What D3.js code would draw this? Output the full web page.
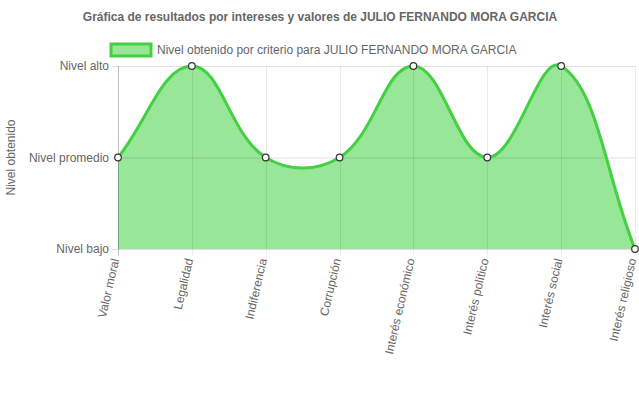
<!DOCTYPE html>
<html>
<head>
<meta charset="utf-8">
<script src="https://cdn.jsdelivr.net/npm/d3@7"></script>
<style>
  body { margin: 0; background: #fff; }
  text { font-family: "Liberation Sans", Arial, sans-serif; fill: #666; }
</style>
</head>
<body>
<div id="chart"></div>
<script>
// data
let categories = ["Valor moral", "Legalidad", "Indiferencia", "Corrupción",
  "Interés económico", "Interés político", "Interés social", "Interés religioso"];
let levels = ["Nivel bajo", "Nivel promedio", "Nivel alto"];
let values = [1, 2, 1, 1, 2, 1, 2, 0];
let seriesName = "Nivel obtenido por criterio para JULIO FERNANDO MORA GARCIA";
let title = "Gráfica de resultados por intereses y valores de JULIO FERNANDO MORA GARCIA";

let W = 639, H = 396;
let margin = {top: 66, right: 4, bottom: 147, left: 118};

let svg = d3.select("#chart").append("svg")
  .attr("width", W).attr("height", H);

let x = d3.scalePoint().domain(categories).range([margin.left, W - margin.right]);
let y = d3.scaleLinear().domain([0, 2]).range([H - margin.bottom, margin.top]);

// title
svg.append("text")
  .attr("x", 320).attr("y", 21)
  .attr("text-anchor", "middle")
  .style("font-size", "12px").style("font-weight", "bold")
  .text(title);

// legend
svg.append("rect")
  .attr("x", 111).attr("y", 44).attr("width", 40).attr("height", 12)
  .attr("fill", "rgba(50,205,50,0.5)")
  .attr("stroke", "#43d043").attr("stroke-width", 3);
svg.append("text")
  .attr("x", 157).attr("y", 54)
  .style("font-size", "12px")
  .text(seriesName);

// y labels
svg.selectAll(".yl").data([0, 1, 2]).enter().append("text")
  .attr("x", margin.left - 9).attr("y", d => y(d))
  .attr("dy", "0.35em").attr("text-anchor", "end")
  .style("font-size", "12px")
  .text(d => levels[d]);

svg.append("text")
  .attr("transform", "translate(15," + y(1) + ") rotate(-90)")
  .attr("text-anchor", "middle")
  .style("font-size", "12px")
  .text("Nivel obtenido");

// x labels
svg.selectAll(".xl").data(categories).enter().append("text")
  .attr("transform", d => "translate(" + (x(d) - 1) + "," + (y(0) + 10) + ") rotate(-77)")
  .attr("text-anchor", "end").attr("dy", "0.2em")
  .style("font-size", "12px")
  .text(d => d);

// spline like Chart.js (tension 0.4)
let pts = values.map((v, i) => [x(categories[i]), y(v)]);
let tension = 0.4;
let cps = pts.map((p, i) => {
  let p0 = pts[i - 1] || p, p2 = pts[i + 1] || p;
  let d01 = Math.hypot(p[0] - p0[0], p[1] - p0[1]);
  let d12 = Math.hypot(p2[0] - p[0], p2[1] - p[1]);
  let s01 = d01 / (d01 + d12), s12 = d12 / (d01 + d12);
  s01 = isNaN(s01) ? 0 : s01; s12 = isNaN(s12) ? 0 : s12;
  let fa = tension * s01, fb = tension * s12;
  return {
    prev: [p[0] - fa * (p2[0] - p0[0]), p[1] - fa * (p2[1] - p0[1])],
    next: [p[0] + fb * (p2[0] - p0[0]), p[1] + fb * (p2[1] - p0[1])]
  };
});
function curve(path) {
  path.moveTo(pts[0][0], pts[0][1]);
  for (let i = 1; i < pts.length; i++) {
    let a = cps[i - 1].next, b = cps[i].prev;
    path.bezierCurveTo(a[0], a[1], b[0], b[1], pts[i][0], pts[i][1]);
  }
  return path;
}
let area = curve(d3.path());
area.lineTo(pts[pts.length - 1][0], y(0));
area.lineTo(pts[0][0], y(0));
area.closePath();
svg.append("path").attr("d", area.toString())
  .attr("fill", "rgba(50,205,50,0.5)");

// grid (shows through the fill)
let grid = svg.append("g");
grid.selectAll(".hg").data([0, 1, 2]).enter().append("line")
  .attr("x1", margin.left - 6).attr("x2", W - margin.right)
  .attr("y1", d => y(d) + 0.5).attr("y2", d => y(d) + 0.5)
  .attr("stroke", "rgba(0,0,0,0.12)");
grid.selectAll(".vg").data(categories).enter().append("line")
  .attr("x1", d => Math.round(x(d)) + 0.5).attr("x2", d => Math.round(x(d)) + 0.5)
  .attr("y1", margin.top).attr("y2", y(0) + 6)
  .attr("stroke", (d, i) => i == 0 ? "rgba(0,0,0,0.25)" : "rgba(0,0,0,0.08)");

svg.append("path").attr("d", curve(d3.path()).toString())
  .attr("fill", "none").attr("stroke", "#43d043").attr("stroke-width", 3);

// points
svg.selectAll(".pt").data(pts).enter().append("circle")
  .attr("cx", d => d[0]).attr("cy", d => d[1]).attr("r", 3.3)
  .attr("fill", "#fff").attr("stroke", "#333").attr("stroke-width", 1.2);
</script>
</body>
</html>
